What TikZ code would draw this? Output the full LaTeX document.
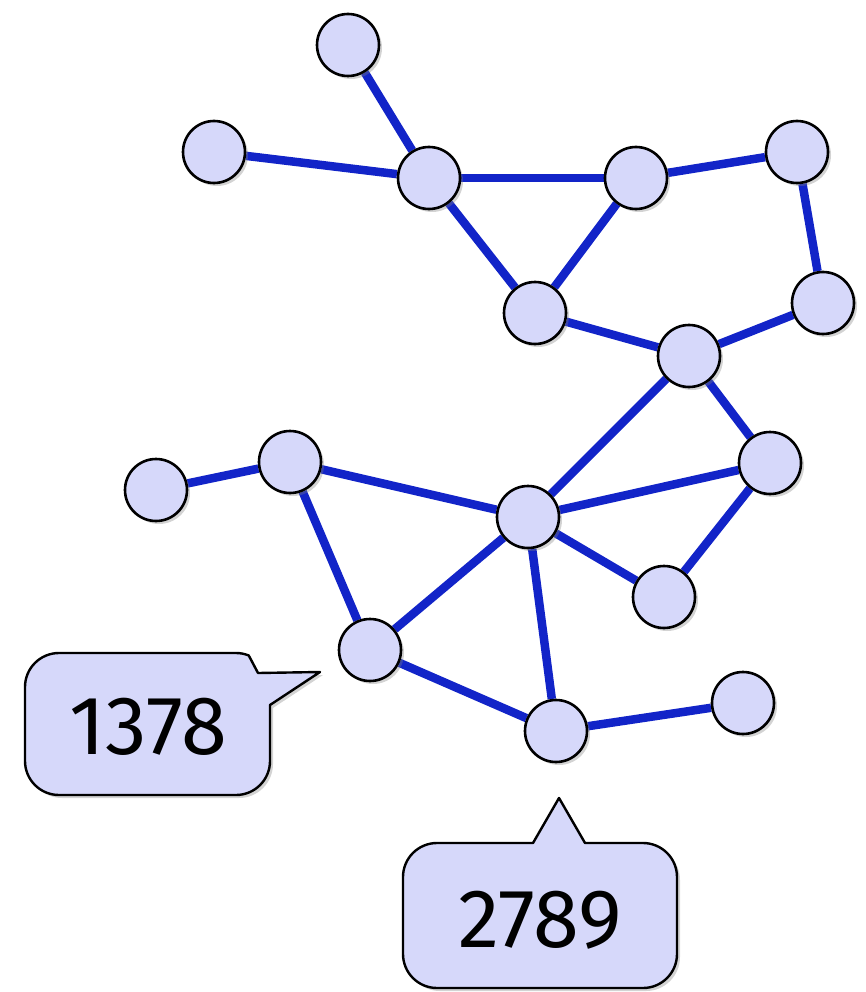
\documentclass[tikz,border=0pt]{standalone}
\usepackage{fontspec}
\setmainfont{Fira Sans}
\usetikzlibrary{shadows,backgrounds}
\definecolor{edgeblue}{RGB}{18,36,200}
\definecolor{vfill}{RGB}{214,216,250}
\tikzset{
  vertex/.style={circle, draw=black, line width=2.6pt, fill=vfill, minimum size=62pt, inner sep=0pt,
    drop shadow={shadow xshift=3pt, shadow yshift=-3pt, opacity=0.35}},
  link/.style={draw=edgeblue, line width=8.5pt},
  bubble/.style={draw=black, line width=2.4pt, fill=vfill, line join=round,
    drop shadow={shadow xshift=3pt, shadow yshift=-3pt, opacity=0.35}},
  bubbletext/.style={font=\fontsize{83}{88}\selectfont, inner sep=0pt}
}
\begin{document}
\begin{tikzpicture}[x=1pt, y=-1pt]
\useasboundingbox (0,0) rectangle (866,992);
% vertices
\node[vertex] (a) at (348,45) {};
\node[vertex] (b) at (214,152) {};
\node[vertex] (c) at (429,178) {};
\node[vertex] (d) at (636,178) {};
\node[vertex] (e) at (797,152) {};
\node[vertex] (f) at (823,303) {};
\node[vertex] (g) at (535,313) {};
\node[vertex] (h) at (689,356) {};
\node[vertex] (i) at (770,463) {};
\node[vertex] (j) at (156,490) {};
\node[vertex] (k) at (290,462) {};
\node[vertex] (l) at (528,517) {};
\node[vertex] (m) at (664,597) {};
\node[vertex] (n) at (370,650) {};
\node[vertex] (o) at (556,731) {};
\node[vertex] (p) at (743,703) {};
% edges behind the vertices
\begin{scope}[on background layer]
\foreach \u/\v in {a/c,b/c,c/d,c/g,d/g,d/e,e/f,f/h,g/h,h/l,h/i,i/l,i/m,l/m,j/k,k/l,k/n,l/n,l/o,n/o,o/p}
  \draw[link] (\u) -- (\v);
\end{scope}
% speech bubble with value 1378 (y axis points down, so angles run clockwise)
\draw[bubble] (59,653) -- (236,653) arc[start angle=270, end angle=292, radius=34]
  -- (258,673) -- (320,672) -- (270,705) -- (270,761)
  arc[start angle=0, end angle=90, radius=34] -- (59,795)
  arc[start angle=90, end angle=180, radius=34] -- (25,687)
  arc[start angle=180, end angle=270, radius=34] -- cycle;
\node[bubbletext] (v1) at (148,727) {1378};
% speech bubble with value 2789
\draw[bubble] (437,843) -- (533,843) -- (559,798) -- (585,843) -- (643,843)
  arc[start angle=270, end angle=360, radius=34] -- (677,954)
  arc[start angle=0, end angle=90, radius=34] -- (437,988)
  arc[start angle=90, end angle=180, radius=34] -- (403,877)
  arc[start angle=180, end angle=270, radius=34] -- cycle;
\node[bubbletext] (v2) at (540,920) {2789};
\end{tikzpicture}
\end{document}
